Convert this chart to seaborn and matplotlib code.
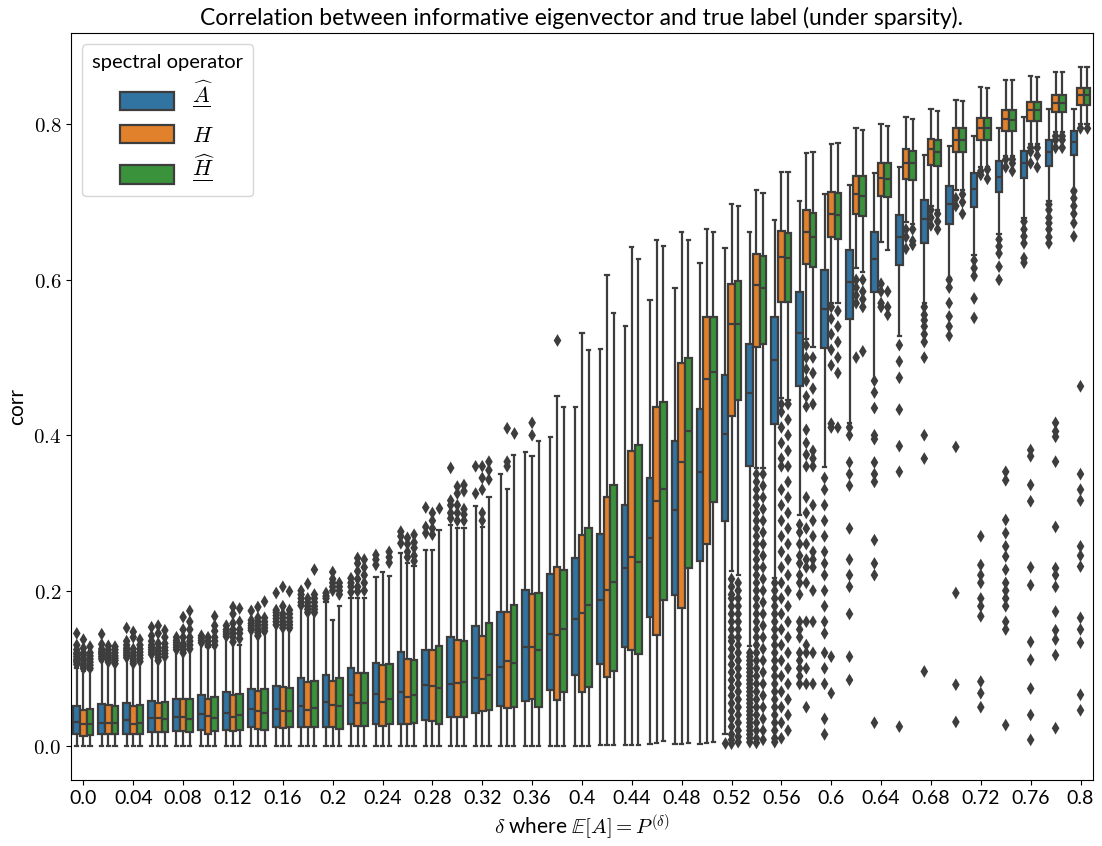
import numpy as np
import pandas as pd
import matplotlib
matplotlib.use("Agg")
import matplotlib.pyplot as plt
import seaborn as sns
from matplotlib.mathtext import MathTextParser

# categories (delta)
deltas = ["0.0", "0.02", "0.04", "0.06", "0.08", "0.1", "0.12", "0.14", "0.16", "0.18",
          "0.2", "0.22", "0.24", "0.26", "0.28", "0.3", "0.32", "0.34", "0.36", "0.38",
          "0.4", "0.42", "0.44", "0.46", "0.48", "0.5", "0.52", "0.54", "0.56", "0.58",
          "0.6", "0.62", "0.64", "0.66", "0.68", "0.7", "0.72", "0.74", "0.76", "0.78", "0.8"]

# box statistics: A-hat (blue)
a_lo = [0.0, 0.0, 0.0, 0.0, 0.0, 0.0, 0.0, 0.0, 0.0, 0.0, 0.0, 0.0, 0.0, 0.0, 0.0, 0.0, 0.0, 0.0, 0.0, 0.0,
        0.0, 0.002, 0.002, 0.003, 0.003, 0.003, 0.015, 0.129, 0.216, 0.297, 0.359, 0.416, 0.471, 0.528, 0.570, 0.602,
        0.632, 0.659, 0.680, 0.701, 0.716]
a_q1 = [.016, .015, .016, .018, .019, .021, .021, .024, .024, .025, .025, .029, .029, .028, .033, .037, .043, .052, .058, .072,
        .091, .106, .128, .166, .194, .238, .290, .361, .415, .463, .512, .549, .584, .619, .647, .672, .694, .713, .731, .747, .761]
a_med = [.031, .030, .033, .036, .038, .041, .042, .048, .048, .052, .057, .066, .067, .070, .079, .080, .088, .102, .128, .144,
         .164, .188, .229, .268, .304, .353, .401, .454, .497, .531, .563, .597, .627, .655, .678, .698, .717, .733, .751, .764, .777]
a_q3 = [.051, .054, .055, .058, .061, .066, .069, .074, .077, .088, .092, .100, .107, .121, .124, .140, .154, .173, .201, .221,
        .242, .273, .310, .345, .393, .434, .478, .517, .552, .584, .613, .639, .662, .684, .703, .721, .737, .753, .766, .780, .792]
a_hi = [.100, .110, .113, .117, .123, .132, .140, .148, .155, .180, .185, .190, .218, .249, .252, .285, .309, .350, .378, .398,
        .436, .511, .540, .574, .589, .622, .641, .661, .677, .701, .710, .722, .738, .745, .761, .772, .785, .796, .810, .820, .820]

# H (orange)
h_lo = [0.0, 0.0, 0.0, 0.0, 0.0, 0.0, 0.0, 0.0, 0.0, 0.0, 0.0, 0.0, 0.0, 0.0, 0.0, 0.0, 0.0, 0.0, 0.0, 0.0,
        0.0, 0.002, 0.002, 0.004, 0.003, 0.004, 0.225, 0.358, 0.448, 0.524, 0.570, 0.615, 0.649, 0.674, 0.695, 0.716,
        0.745, 0.760, 0.775, 0.790, 0.800]
h_q1 = [.013, .016, .015, .018, .019, .015, .020, .022, .023, .024, .025, .026, .026, .029, .032, .037, .045, .049, .061, .059,
        .069, .089, .123, .143, .178, .260, .425, .513, .571, .621, .655, .685, .708, .730, .748, .764, .780, .792, .805, .816, .825]
h_med = [.028, .030, .029, .036, .038, .039, .038, .045, .045, .047, .053, .056, .057, .063, .077, .081, .086, .110, .127, .143,
         .171, .201, .243, .316, .366, .473, .543, .593, .629, .662, .685, .710, .731, .750, .768, .780, .795, .807, .818, .828, .838]
h_q3 = [.047, .053, .052, .055, .060, .060, .066, .071, .076, .083, .084, .094, .104, .112, .123, .137, .141, .173, .196, .230,
        .271, .320, .380, .437, .493, .552, .595, .633, .663, .690, .713, .734, .751, .768, .781, .795, .808, .819, .829, .838, .847]
h_hi = [.097, .108, .106, .110, .120, .127, .134, .142, .152, .170, .162, .190, .224, .235, .252, .280, .282, .331, .373, .450,
        .532, .606, .642, .651, .662, .666, .698, .716, .739, .763, .775, .795, .800, .810, .820, .832, .848, .857, .862, .868, .874]

# H-hat (green)
g_lo = [0.0, 0.0, 0.0, 0.0, 0.0, 0.0, 0.0, 0.0, 0.0, 0.0, 0.0, 0.0, 0.0, 0.0, 0.0, 0.0, 0.0, 0.0, 0.0, 0.0,
        0.0, 0.002, 0.002, 0.006, 0.004, 0.005, 0.220, 0.358, 0.445, 0.513, 0.570, 0.610, 0.639, 0.672, 0.690, 0.715,
        0.745, 0.760, 0.775, 0.790, 0.800]
g_q1 = [.014, .016, .016, .018, .018, .019, .021, .021, .024, .024, .022, .026, .028, .030, .028, .038, .046, .050, .050, .069,
        .076, .096, .118, .188, .229, .314, .445, .517, .571, .616, .653, .682, .706, .729, .747, .764, .780, .792, .805, .816, .825]
g_med = [.028, .030, .030, .035, .035, .036, .040, .042, .045, .049, .052, .055, .061, .066, .075, .083, .092, .107, .124, .151,
         .181, .211, .237, .331, .405, .481, .543, .590, .628, .655, .684, .708, .730, .750, .765, .780, .795, .806, .818, .828, .838]
g_q3 = [.048, .051, .053, .057, .061, .063, .067, .073, .075, .084, .087, .094, .106, .111, .129, .135, .158, .182, .197, .226,
        .281, .336, .387, .443, .500, .552, .598, .631, .660, .686, .712, .734, .750, .766, .780, .795, .808, .819, .829, .838, .847]
g_hi = [.098, .105, .108, .114, .124, .128, .130, .146, .150, .170, .180, .190, .219, .232, .278, .280, .321, .375, .393, .436,
        .510, .557, .627, .643, .651, .661, .695, .712, .739, .764, .776, .793, .798, .807, .817, .830, .847, .857, .861, .868, .874]

# outliers per category
a_fliers = [
    [.105, .108, .11, .112, .115, .118, .12, .124, .13, .145],
    [.112, .115, .118, .12, .122, .125, .131, .144],
    [.114, .117, .12, .123, .126, .13, .135, .152],
    [.118, .121, .124, .127, .13, .135, .142, .153],
    [.124, .127, .13, .133, .136, .14],
    [.133, .136, .139, .142],
    [.141, .144, .147, .15, .155],
    [.149, .152, .155, .158, .162, .174],
    [.156, .16, .164, .168, .172, .175, .197],
    [.181, .185, .19, .195, .2],
    [.19, .193, .197],
    [.198, .205, .21, .216],
    [.233, .24, .246],
    [.261, .27, .276],
    [.274, .282, .307],
    [.293, .3, .31, .316, .358],
    [.325, .36],
    [], [], [], [], [], [], [], [], [],
    [.004],
    [.12, .115, .11, .105, .1, .095, .09, .085, .08, .075, .07, .065, .06, .055, .05, .045, .04, .035, .03, .025,
     .02, .015, .01, .005],
    [.21, .2, .19, .18, .17, .16, .15, .14, .13, .12, .11, .1, .09, .08, .07, .06, .05, .04, .03, .02, .01, .005],
    [.285, .275, .26, .245, .235, .22, .21, .195, .16, .15, .14, .12, .11, .1, .09, .08],
    [.345, .33, .31, .29, .27, .25, .235, .22, .2, .18, .16, .145, .12, .1, .08, .035, .015],
    [.41, .40, .365, .35, .335, .28, .24, .22, .205, .17, .115, .085],
    [.47, .455, .435, .40, .395, .365, .35, .34, .265, .235, .22, .03],
    [.516, .495, .474, .433, .386, .353, .025],
    [.565, .555, .548, .54, .53, .52, .50, .40, .37, .096],
    [.60, .59, .57, .553, .54, .528],
    [.625, .615, .605, .576, .551],
    [.652, .643, .634, .617, .60],
    [.675, .665, .656, .647, .628, .622],
    [.697, .69, .68, .673, .665, .655, .647],
    [.714, .705, .695, .685, .673, .656],
]
h_fliers = [
    [.10, .103, .106, .11, .113, .117, .12, .126, .137],
    [.108, .111, .114, .117, .12, .124, .129],
    [.106, .109, .112, .116, .12, .125, .14, .147],
    [.11, .114, .118, .122, .126, .132, .145, .155],
    [.12, .124, .128, .132, .14, .15, .166],
    [.13, .135, .14],
    [.134, .14, .145, .15, .158, .17, .179],
    [.142, .146, .15, .155, .16, .165, .179],
    [.152, .156, .16, .165, .17, .18, .205],
    [.172, .176, .18, .185, .19, .209],
    [.2, .205, .21, .215, .224],
    [.199, .205, .215, .225, .235, .242],
    [],
    [.243, .25, .26, .268],
    [.272, .28, .29, .30],
    [.29, .30, .31, .325, .334],
    [.29, .30, .33, .345, .36],
    [.36, .366, .409],
    [.40, .416],
    [.523],
    [], [], [], [], [], [],
    [.215, .205, .195, .19, .18, .17, .16, .15, .14, .135, .125, .115, .105, .095, .085, .075, .065, .055, .045,
     .035, .025, .015, .008, .003],
    [.35, .34, .33, .32, .31, .3, .29, .28, .27, .26, .25, .24, .23, .22, .21, .2, .19, .18, .17, .16, .15, .14,
     .13, .12, .11, .1, .09, .08, .07, .06, .05, .04, .03, .02, .01, .004],
    [.44, .43, .41, .39, .37, .36, .33, .31, .29, .27, .25, .23, .21, .19, .17, .15, .13, .11, .09, .07, .05, .03, .01],
    [.516, .5, .485, .47, .45, .437, .407, .39, .375, .36, .32, .3, .28, .26, .24, .23, .21, .16, .13, .12, .10, .08, .05],
    [.565, .55, .53, .51, .49, .415, .41, .115, .068],
    [.60, .59, .58, .57, .50],
    [.595, .585, .57, .565],
    [.665, .655, .64],
    [.69, .68, .67],
    [.705, .695, .385, .197, .079, .031],
    [.74, .735, .27, .233, .22, .21, .19, .18, .167, .083, .068, .05],
    [.755, .745, .353, .342, .291, .274, .257, .244, .227, .21, .20, .19, .18, .16, .15, .027],
    [.77, .765, .75, .381, .373, .336, .315, .23, .207, .134, .111, .074, .04, .008],
    [.785, .78, .77, .416, .405, .398, .366, .282, .229, .22, .205, .173, .149, .137, .117, .023],
    [.795, .463, .35, .33, .316, .257, .245, .231, .165, .15, .133, .066, .046],
]
g_fliers = [
    [.10, .104, .108, .112, .116, .12, .128],
    [.106, .11, .113, .116, .12, .124, .128],
    [.109, .113, .117, .121, .125, .13, .137],
    [.115, .119, .123, .127, .132, .14, .149],
    [.125, .13, .135, .14, .15, .16, .174],
    [.13, .135, .14, .148, .155, .167],
    [.138, .145, .15, .16, .177],
    [.148, .152, .156, .16, .165, .186],
    [.152, .156, .16, .165, .17, .175, .199],
    [.172, .176, .18, .185, .19, .195, .227],
    [.195, .2, .205, .21],
    [.2, .21, .22, .23, .24],
    [.236, .243, .25],
    [.238, .245, .255, .262, .272],
    [.306],
    [.29, .298, .305, .328, .336],
    [.343, .355, .366],
    [.403],
    [], [], [], [], [], [], [], [],
    [.21, .2, .19, .18, .17, .16, .15, .14, .13, .12, .11, .1, .09, .08, .07, .06, .05, .04, .03, .02, .012, .005],
    [.35, .335, .32, .305, .29, .275, .26, .245, .23, .215, .2, .185, .17, .155, .14, .125, .11, .095, .08, .065,
     .05, .035, .02, .008],
    [.44, .42, .40, .38, .36, .34, .32, .30, .28, .26, .24, .22, .20, .18, .16, .14, .12, .10, .08, .06, .04, .02],
    [.50, .48, .46, .44, .38, .37, .36, .31, .29, .27, .25, .24, .23, .2, .16, .12, .08],
    [.56, .54, .52, .50, .48, .41],
    [.60, .585, .575, .565, .508],
    [.585, .565, .555],
    [.665, .65, .645],
    [.685, .675, .665],
    [.71, .70, .685],
    [.742, .73],
    [.755, .75, .74],
    [.77, .76, .745],
    [.785, .78, .77],
    [.795],
]

y_ticks = [0.0, 0.2, 0.4, 0.6, 0.8]

plt.rcParams["font.family"] = ["Lato", "DejaVu Sans"]
plt.rcParams["mathtext.fontset"] = "cm"


def pick_label(*candidates):
    # mathtext has no \underline, fall back when needed
    parser = MathTextParser("path")
    for c in candidates:
        try:
            parser.parse(c)
            return c
        except Exception:
            continue
    return candidates[-1]


op_labels = [
    pick_label(r"$\underline{\widehat{A}}$", r"$\dfrac{\widehat{A}}{\,}$", r"$\widehat{A}$"),
    r"$H$",
    pick_label(r"$\underline{\widehat{H}}$", r"$\dfrac{\widehat{H}}{\,}$", r"$\widehat{H}$"),
]
hue_name = "spectral operator"

stats = [(a_lo, a_q1, a_med, a_q3, a_hi), (h_lo, h_q1, h_med, h_q3, h_hi), (g_lo, g_q1, g_med, g_q3, g_hi)]
fliers = [a_fliers, h_fliers, g_fliers]

box_rows = []
flier_rows = []
for label, st, fl in zip(op_labels, stats, fliers):
    for i, d in enumerate(deltas):
        for arr in st:
            box_rows.append((d, arr[i], label))
        for v in fl[i]:
            flier_rows.append((d, v, label))
box_df = pd.DataFrame(box_rows, columns=["delta", "corr", hue_name])
flier_df = pd.DataFrame(flier_rows, columns=["delta", "corr", hue_name])

fig = plt.figure(figsize=(11.02, 8.46), dpi=100)
ax = fig.add_axes([0.0644, 0.078, 0.9274, 0.883])

sns.boxplot(data=box_df, x="delta", y="corr", hue=hue_name, order=deltas, hue_order=op_labels,
            whis=(0, 100), showfliers=False, linewidth=1.6, ax=ax)
sns.stripplot(data=flier_df, x="delta", y="corr", hue=hue_name, order=deltas, hue_order=op_labels,
              dodge=True, jitter=False, marker="d", size=6.5, palette=["#3d3d3d"] * 3,
              legend=False, ax=ax)

ax.set_xticks(range(0, len(deltas), 2))
ax.set_xticklabels(deltas[::2], fontsize=14)
ax.set_yticks(y_ticks)
ax.set_yticklabels([f"${v:.1f}$" for v in y_ticks], fontsize=15)
ax.set_xlim(-0.5, len(deltas) - 0.5)

ax.set_title("Correlation between informative eigenvector and true label (under sparsity).", fontsize=16.5)
ax.set_xlabel(r"$\delta$ where $\mathbb{E}[A] = P^{(\delta)}$", fontsize=15)
ax.set_ylabel("corr", fontsize=15)

sns.move_legend(ax, "upper left", title=hue_name, fontsize=16, title_fontsize=14.5,
                handlelength=2.4, handleheight=0.9, labelspacing=0.55, borderpad=0.45)

fig.savefig("out.png", dpi=100)
